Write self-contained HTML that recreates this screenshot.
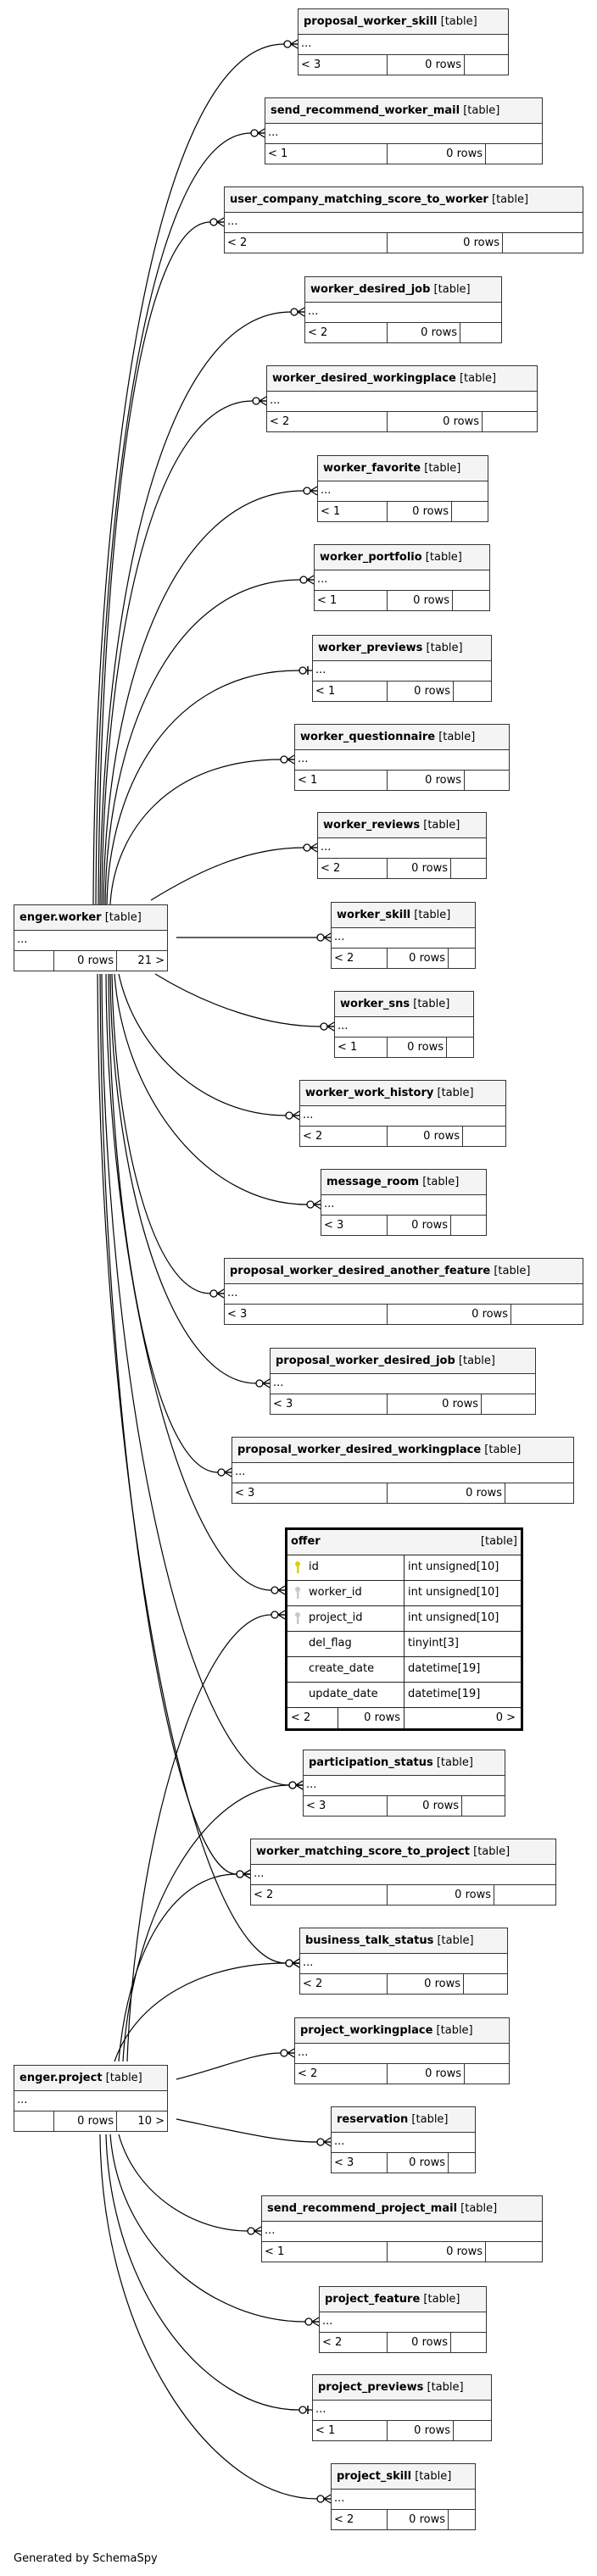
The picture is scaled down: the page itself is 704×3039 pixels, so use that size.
<!DOCTYPE html>
<html><head><meta charset="utf-8">
<style>
html,body{margin:0;padding:0;background:#fff}
body{width:704px;height:3039px;position:relative;overflow:hidden;font-family:"DejaVu Sans","Liberation Sans",sans-serif;font-size:13px;color:#000}
.t{position:absolute;border:1px solid #333;background:#fff;box-sizing:border-box}
.h{height:29px;background:#f4f4f4;border-bottom:1px solid #333;line-height:29px;padding-left:6px;white-space:nowrap;overflow:hidden}
.h b{font-weight:bold}
.d{height:23px;border-bottom:1px solid #333;line-height:22px;padding-left:3px}
.f{height:23px;display:flex;line-height:23px}
.f span{border-right:1px solid #333;box-sizing:border-box;padding:0 3px;white-space:nowrap;overflow:hidden}
.f span:last-child{flex:1;border-right:none}
.r{text-align:right}
svg{position:absolute;left:0;top:0}
.o{position:absolute;left:336px;top:1802px;width:281px;border:3px solid #000;background:#fff;box-sizing:border-box}
.o .row{height:29px;border-bottom:1px solid #222;display:flex;line-height:28px}
.o .row span{box-sizing:border-box;white-space:nowrap}
.o .c1{width:138px;border-right:1px solid #222;padding-left:25px;position:relative}
.o .c2{flex:1;padding-left:4px}
.key{position:absolute;left:8px;top:6px}
</style></head><body>
<svg width="704" height="3039" viewBox="0 0 704 3039">
<defs>
<marker id="cf" markerUnits="userSpaceOnUse" viewBox="-18 -7 20 14" refX="0" refY="0" markerWidth="20" markerHeight="14" orient="auto">
<path d="M-8,0 L0,-5 M-8,0 L0,0 M-8,0 L0,5" stroke="#000" stroke-width="1.3" fill="none"/>
<circle cx="-12" cy="0" r="4" fill="#fff" stroke="#000" stroke-width="1.3"/>
</marker>
<marker id="cb" markerUnits="userSpaceOnUse" viewBox="-18 -7 20 14" refX="0" refY="0" markerWidth="20" markerHeight="14" orient="auto">
<path d="M-5,-5 L-5,5" stroke="#000" stroke-width="1.5" fill="none"/>
<circle cx="-11" cy="0" r="4" fill="#fff" stroke="#000" stroke-width="1.3"/>
</marker>
</defs>
<g fill="none" stroke="#000" stroke-width="1.2" marker-end="url(#cf)">
<path d="M110,1067 C112,560 182,52 335,52 L351,52"/>
<path d="M113,1067 C115,612 173,157 296,157 L312,157"/>
<path d="M116,1067 C118,665 160,262 248,262 L264,262"/>
<path d="M118,1067 C120,718 190,368 343,368 L359,368"/>
<path d="M120,1067 C122,770 178,473 298,473 L314,473"/>
<path d="M122,1067 C124,823 198,579 358,579 L374,579"/>
<path d="M124,1067 C126,876 198,684 354,684 L370,684"/>
<path d="M126,1067 C128,929 200,791 352,791 L368,791" marker-end="url(#cb)"/>
<path d="M130,1067 C135,980 200,896 331,896 L347,896"/>
<path d="M178,1062 C230,1030 290,1000 358,1000 L374,1000"/>
<path d="M208,1106 L390,1106"/>
<path d="M183,1149 C250,1190 320,1211 378,1211 L394,1211"/>
<path d="M140,1149 C160,1240 240,1316 337,1316 L353,1316"/>
<path d="M135,1149 C145,1290 240,1421 362,1421 L378,1421"/>
<path d="M132,1149 C135,1340 180,1526 248,1526 L264,1526"/>
<path d="M130,1149 C132,1390 200,1632 302,1632 L318,1632"/>
<path d="M128,1149 C130,1440 180,1737 257,1737 L273,1737"/>
<path d="M125,1149 C127,1510 220,1876 320,1876 L336,1876"/>
<path d="M120,1149 C122,1630 220,2106 341,2106 L357,2106"/>
<path d="M118,1149 C120,1680 200,2211 279,2211 L295,2211"/>
<path d="M115,1149 C117,1730 220,2316 337,2316 L353,2316"/>
<path d="M150,2432 C160,2160 240,1905 320,1905 L336,1905"/>
<path d="M145,2432 C155,2260 240,2106 341,2106 L357,2106"/>
<path d="M140,2432 C150,2310 200,2211 279,2211 L295,2211"/>
<path d="M135,2432 C160,2360 240,2316 337,2316 L353,2316"/>
<path d="M208,2453 C260,2440 300,2422 331,2422 L347,2422"/>
<path d="M208,2500 C280,2515 330,2527 374,2527 L390,2527"/>
<path d="M140,2518 C160,2590 230,2632 292,2632 L308,2632"/>
<path d="M130,2518 C140,2650 250,2739 360,2739 L376,2739"/>
<path d="M125,2518 C130,2700 240,2843 352,2843 L368,2843" marker-end="url(#cb)"/>
<path d="M118,2518 C120,2760 250,2948 374,2948 L390,2948"/>
</g>
</svg>

<div class="t" style="left:351px;top:10px;width:249px"><div class="h"><b>proposal_worker_skill</b> [table]</div><div class="d">...</div><div class="f"><span style="width:105px">&lt; 3</span><span class="r" style="width:91px">0 rows</span><span></span></div></div>
<div class="t" style="left:312px;top:115px;width:328px"><div class="h"><b>send_recommend_worker_mail</b> [table]</div><div class="d">...</div><div class="f"><span style="width:144px">&lt; 1</span><span class="r" style="width:116px">0 rows</span><span></span></div></div>
<div class="t" style="left:264px;top:220px;width:424px"><div class="h"><b>user_company_matching_score_to_worker</b> [table]</div><div class="d">...</div><div class="f"><span style="width:192px">&lt; 2</span><span class="r" style="width:136px">0 rows</span><span></span></div></div>
<div class="t" style="left:359px;top:326px;width:233px"><div class="h"><b>worker_desired_job</b> [table]</div><div class="d">...</div><div class="f"><span style="width:97px">&lt; 2</span><span class="r" style="width:86px">0 rows</span><span></span></div></div>
<div class="t" style="left:314px;top:431px;width:320px"><div class="h"><b>worker_desired_workingplace</b> [table]</div><div class="d">...</div><div class="f"><span style="width:142px">&lt; 2</span><span class="r" style="width:112px">0 rows</span><span></span></div></div>
<div class="t" style="left:374px;top:537px;width:202px"><div class="h"><b>worker_favorite</b> [table]</div><div class="d">...</div><div class="f"><span style="width:82px">&lt; 1</span><span class="r" style="width:76px">0 rows</span><span></span></div></div>
<div class="t" style="left:370px;top:642px;width:208px"><div class="h"><b>worker_portfolio</b> [table]</div><div class="d">...</div><div class="f"><span style="width:86px">&lt; 1</span><span class="r" style="width:77px">0 rows</span><span></span></div></div>
<div class="t" style="left:368px;top:749px;width:212px"><div class="h"><b>worker_previews</b> [table]</div><div class="d">...</div><div class="f"><span style="width:88px">&lt; 1</span><span class="r" style="width:78px">0 rows</span><span></span></div></div>
<div class="t" style="left:347px;top:854px;width:254px"><div class="h"><b>worker_questionnaire</b> [table]</div><div class="d">...</div><div class="f"><span style="width:109px">&lt; 1</span><span class="r" style="width:91px">0 rows</span><span></span></div></div>
<div class="t" style="left:374px;top:958px;width:200px"><div class="h"><b>worker_reviews</b> [table]</div><div class="d">...</div><div class="f"><span style="width:82px">&lt; 2</span><span class="r" style="width:75px">0 rows</span><span></span></div></div>
<div class="t" style="left:390px;top:1064px;width:171px"><div class="h"><b>worker_skill</b> [table]</div><div class="d">...</div><div class="f"><span style="width:66px">&lt; 2</span><span class="r" style="width:72px">0 rows</span><span></span></div></div>
<div class="t" style="left:394px;top:1169px;width:165px"><div class="h"><b>worker_sns</b> [table]</div><div class="d">...</div><div class="f"><span style="width:62px">&lt; 1</span><span class="r" style="width:70px">0 rows</span><span></span></div></div>
<div class="t" style="left:353px;top:1274px;width:244px"><div class="h"><b>worker_work_history</b> [table]</div><div class="d">...</div><div class="f"><span style="width:103px">&lt; 2</span><span class="r" style="width:89px">0 rows</span><span></span></div></div>
<div class="t" style="left:378px;top:1379px;width:196px"><div class="h"><b>message_room</b> [table]</div><div class="d">...</div><div class="f"><span style="width:78px">&lt; 3</span><span class="r" style="width:75px">0 rows</span><span></span></div></div>
<div class="t" style="left:264px;top:1484px;width:424px"><div class="h"><b>proposal_worker_desired_another_feature</b> [table]</div><div class="d">...</div><div class="f"><span style="width:192px">&lt; 3</span><span class="r" style="width:146px">0 rows</span><span></span></div></div>
<div class="t" style="left:318px;top:1590px;width:314px"><div class="h"><b>proposal_worker_desired_job</b> [table]</div><div class="d">...</div><div class="f"><span style="width:138px">&lt; 3</span><span class="r" style="width:111px">0 rows</span><span></span></div></div>
<div class="t" style="left:273px;top:1695px;width:404px"><div class="h"><b>proposal_worker_desired_workingplace</b> [table]</div><div class="d">...</div><div class="f"><span style="width:183px">&lt; 3</span><span class="r" style="width:139px">0 rows</span><span></span></div></div>

<div class="o">
<div class="row" style="background:#f4f4f4"><span style="padding-left:4px;font-weight:bold;flex:1">offer</span><span style="padding-right:4px">[table]</span></div>
<div class="row"><span class="c1"><svg class="key" width="8" height="16" viewBox="0 0 8 16"><circle cx="4" cy="4" r="3" fill="#e0d000"/><rect x="3" y="6" width="2.5" height="9" fill="#e0d000"/></svg>id</span><span class="c2">int unsigned[10]</span></div>
<div class="row"><span class="c1"><svg class="key" width="8" height="16" viewBox="0 0 8 16"><circle cx="4" cy="4" r="3" fill="#c8c8c8"/><rect x="3" y="6" width="2.5" height="9" fill="#c8c8c8"/></svg>worker_id</span><span class="c2">int unsigned[10]</span></div>
<div class="row"><span class="c1"><svg class="key" width="8" height="16" viewBox="0 0 8 16"><circle cx="4" cy="4" r="3" fill="#c8c8c8"/><rect x="3" y="6" width="2.5" height="9" fill="#c8c8c8"/></svg>project_id</span><span class="c2">int unsigned[10]</span></div>
<div class="row"><span class="c1">del_flag</span><span class="c2">tinyint[3]</span></div>
<div class="row"><span class="c1">create_date</span><span class="c2">datetime[19]</span></div>
<div class="row"><span class="c1">update_date</span><span class="c2">datetime[19]</span></div>
<div class="row" style="border-bottom:none;height:24px;line-height:24px"><span style="width:60px;border-right:1px solid #222;padding-left:4px">&lt; 2</span><span style="width:78px;border-right:1px solid #222;text-align:right;padding-right:4px">0 rows</span><span style="flex:1;text-align:right;padding-right:6px">0 &gt;</span></div>
</div>

<div class="t" style="left:357px;top:2064px;width:239px"><div class="h"><b>participation_status</b> [table]</div><div class="d">...</div><div class="f"><span style="width:99px">&lt; 3</span><span class="r" style="width:88px">0 rows</span><span></span></div></div>
<div class="t" style="left:295px;top:2169px;width:361px"><div class="h"><b>worker_matching_score_to_project</b> [table]</div><div class="d">...</div><div class="f"><span style="width:161px">&lt; 2</span><span class="r" style="width:126px">0 rows</span><span></span></div></div>
<div class="t" style="left:353px;top:2274px;width:246px"><div class="h"><b>business_talk_status</b> [table]</div><div class="d">...</div><div class="f"><span style="width:103px">&lt; 2</span><span class="r" style="width:90px">0 rows</span><span></span></div></div>
<div class="t" style="left:347px;top:2380px;width:254px"><div class="h"><b>project_workingplace</b> [table]</div><div class="d">...</div><div class="f"><span style="width:109px">&lt; 2</span><span class="r" style="width:91px">0 rows</span><span></span></div></div>
<div class="t" style="left:390px;top:2485px;width:171px"><div class="h"><b>reservation</b> [table]</div><div class="d">...</div><div class="f"><span style="width:66px">&lt; 3</span><span class="r" style="width:72px">0 rows</span><span></span></div></div>
<div class="t" style="left:308px;top:2590px;width:332px"><div class="h"><b>send_recommend_project_mail</b> [table]</div><div class="d">...</div><div class="f"><span style="width:148px">&lt; 1</span><span class="r" style="width:116px">0 rows</span><span></span></div></div>
<div class="t" style="left:376px;top:2697px;width:198px"><div class="h"><b>project_feature</b> [table]</div><div class="d">...</div><div class="f"><span style="width:80px">&lt; 2</span><span class="r" style="width:75px">0 rows</span><span></span></div></div>
<div class="t" style="left:368px;top:2801px;width:212px"><div class="h"><b>project_previews</b> [table]</div><div class="d">...</div><div class="f"><span style="width:88px">&lt; 1</span><span class="r" style="width:78px">0 rows</span><span></span></div></div>
<div class="t" style="left:390px;top:2906px;width:171px"><div class="h"><b>project_skill</b> [table]</div><div class="d">...</div><div class="f"><span style="width:66px">&lt; 2</span><span class="r" style="width:72px">0 rows</span><span></span></div></div>

<div class="t" style="left:16px;top:1067px;width:182px"><div class="h"><b>enger.worker</b> [table]</div><div class="d">...</div><div class="f"><span style="width:47px"></span><span class="r" style="width:74px">0 rows</span><span class="r">21 &gt;</span></div></div>
<div class="t" style="left:16px;top:2436px;width:182px"><div class="h"><b>enger.project</b> [table]</div><div class="d">...</div><div class="f"><span style="width:47px"></span><span class="r" style="width:74px">0 rows</span><span class="r">10 &gt;</span></div></div>

<div style="position:absolute;left:16px;top:3011px;font-size:13px">Generated by SchemaSpy</div>
</body></html>
